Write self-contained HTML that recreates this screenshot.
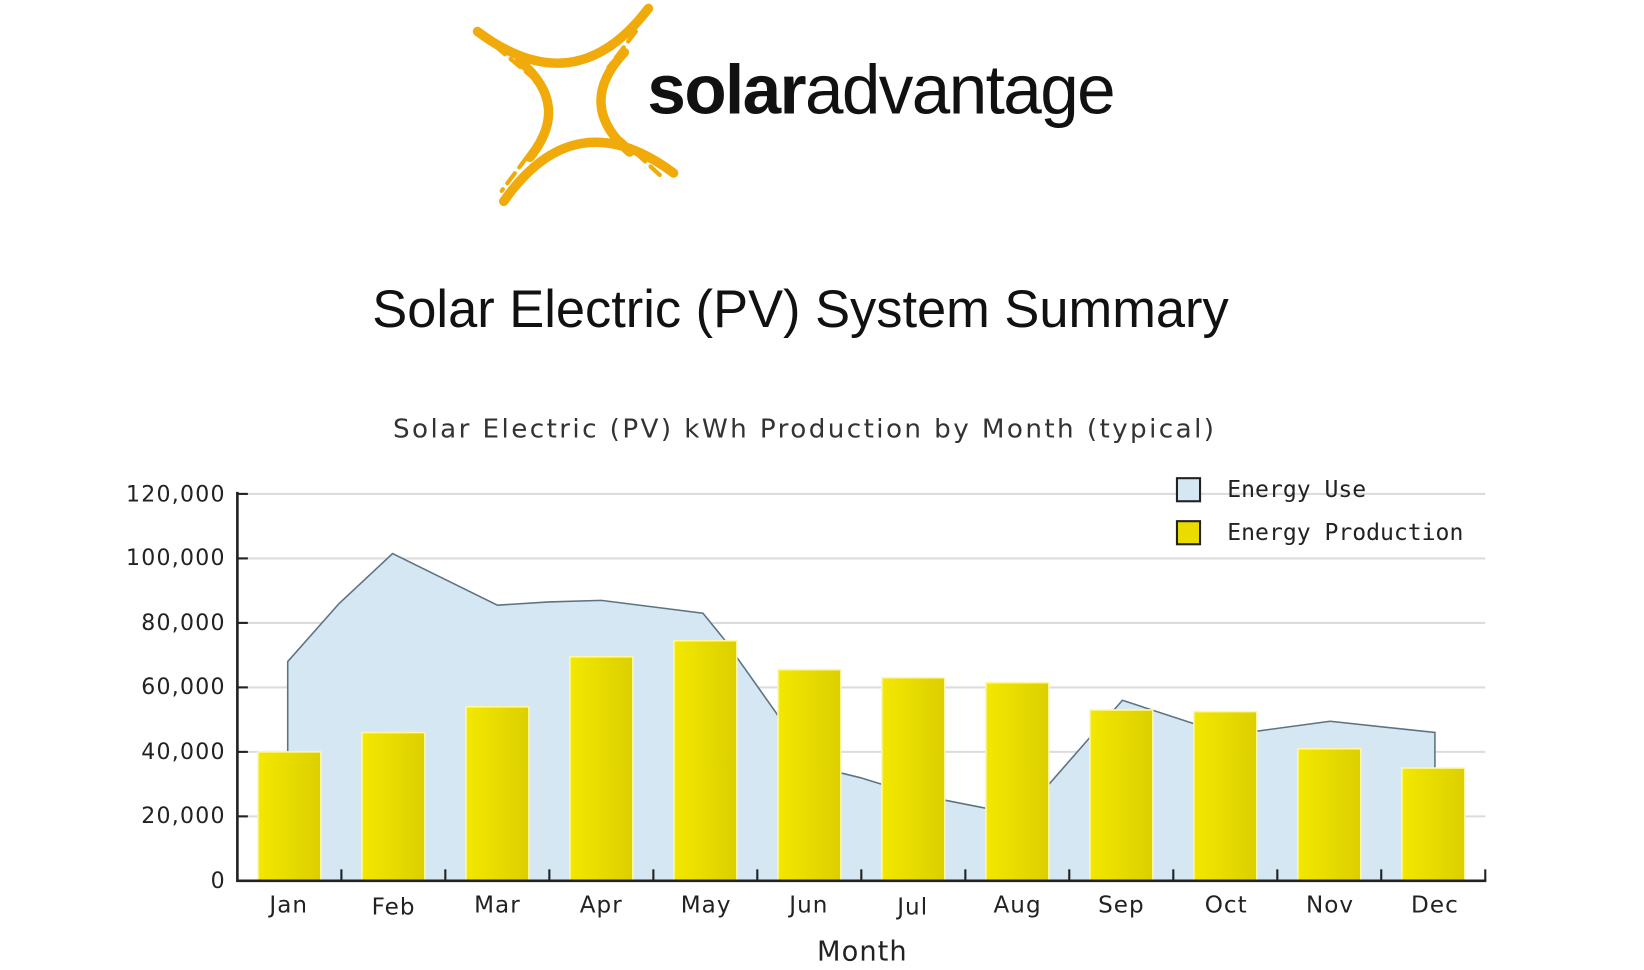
<!DOCTYPE html>
<html><head><meta charset="utf-8"><style>
html,body{margin:0;padding:0;background:#fff;}
svg{display:block;}
</style></head><body>
<svg width="1644" height="970" viewBox="0 0 1567 925" xmlns="http://www.w3.org/2000/svg">
<defs>
<linearGradient id="bar" x1="0" x2="1" y1="0" y2="0">
<stop offset="0" stop-color="#f2e800"/><stop offset="1" stop-color="#dccf00"/>
</linearGradient>
</defs>
<rect width="1567" height="925" fill="#fff"/>
<!-- Logo -->
<g stroke="#f0aa0a" fill="none" stroke-linecap="round">
<path d="M455 30 Q548 100 618 8" stroke-width="9"/>
<path d="M480 192 Q548 95 642 165" stroke-width="9"/>
<path d="M495 58 Q545 100 505 150" stroke-width="9"/>
<path d="M595 50 Q548 100 600 145" stroke-width="9"/>
<path d="M472 44 L510 76" stroke-width="4" stroke-dasharray="12 7"/>
<path d="M606 30 L580 64" stroke-width="4" stroke-dasharray="12 7"/>
<path d="M502 150 L478 182" stroke-width="4" stroke-dasharray="12 7"/>
<path d="M592 133 L630 168" stroke-width="4" stroke-dasharray="12 7"/>
</g>
<text x="617" y="108" font-family="Liberation Sans, sans-serif" font-size="66" fill="#111" letter-spacing="-1.5"><tspan font-weight="bold">solar</tspan>advantage</text>
<!-- Heading -->
<text x="763" y="312" text-anchor="middle" font-family="Liberation Sans, sans-serif" font-size="50" fill="#111">Solar Electric (PV) System Summary</text>
<text x="767" y="417" text-anchor="middle" font-family="DejaVu Sans, sans-serif" font-size="25" letter-spacing="2.3" fill="#333">Solar Electric (PV) kWh Production by Month (typical)</text>
<!-- Grid -->
<g stroke="#dcdcdc" stroke-width="2">
<line x1="226" x2="1416" y1="471" y2="471"/><line x1="226" x2="1416" y1="532.5" y2="532.5"/>
<line x1="226" x2="1416" y1="594" y2="594"/><line x1="226" x2="1416" y1="655.5" y2="655.5"/>
<line x1="226" x2="1416" y1="717" y2="717"/><line x1="226" x2="1416" y1="778.5" y2="778.5"/>
</g>
<!-- Area -->
<path d="M274 840 L274 630.9 L323 575.5 L374 527.9 L474 577.1 L523 574 L573 572.5 L670 584.8 L690 609.4 L740 680.1 L770 729.3 L820 741.6 L870 757 L940 770.8 L1000 747.8 L1070 667.8 L1150 694 L1200 697 L1268 687.8 L1368 698.5 L1368 840 Z" fill="#d4e7f2" stroke="#5e7382" stroke-width="1.5"/>
<!-- Bars -->
<g fill="url(#bar)" stroke="#fff8a0" stroke-width="1.5">
<rect x="245.6" y="717" width="60" height="123"/>
<rect x="344.8" y="698.6" width="60" height="141.4"/>
<rect x="444" y="674" width="60" height="166"/>
<rect x="543.1" y="626.3" width="60" height="213.7"/>
<rect x="642.3" y="611" width="60" height="229"/>
<rect x="741.5" y="638.6" width="60" height="201.4"/>
<rect x="840.6" y="646.3" width="60" height="193.7"/>
<rect x="939.8" y="651" width="60" height="189"/>
<rect x="1039" y="677" width="60" height="163"/>
<rect x="1138.1" y="678.6" width="60" height="161.4"/>
<rect x="1237.3" y="714" width="60" height="126"/>
<rect x="1336.5" y="732.4" width="60" height="107.6"/>
</g>
<!-- Axes -->
<g stroke="#222" stroke-width="2.5">
<line x1="226" y1="469" x2="226" y2="841"/>
<line x1="225" y1="840" x2="1417" y2="840"/>
</g>
<g stroke="#222" stroke-width="2">
<line x1="226" x2="236" y1="471" y2="471"/><line x1="226" x2="236" y1="532.5" y2="532.5"/>
<line x1="226" x2="236" y1="594" y2="594"/><line x1="226" x2="236" y1="655.5" y2="655.5"/>
<line x1="226" x2="236" y1="717" y2="717"/><line x1="226" x2="236" y1="778.5" y2="778.5"/>
<line x1="325.2" x2="325.2" y1="829" y2="840"/><line x1="424.3" x2="424.3" y1="829" y2="840"/>
<line x1="523.5" x2="523.5" y1="829" y2="840"/><line x1="622.7" x2="622.7" y1="829" y2="840"/>
<line x1="721.8" x2="721.8" y1="829" y2="840"/><line x1="821" x2="821" y1="829" y2="840"/>
<line x1="920.2" x2="920.2" y1="829" y2="840"/><line x1="1019.3" x2="1019.3" y1="829" y2="840"/>
<line x1="1118.5" x2="1118.5" y1="829" y2="840"/><line x1="1217.7" x2="1217.7" y1="829" y2="840"/>
<line x1="1316.8" x2="1316.8" y1="829" y2="840"/><line x1="1416" x2="1416" y1="829" y2="840"/>
</g>
<g font-family="DejaVu Sans, sans-serif" font-size="21" letter-spacing="1.2" fill="#222" text-anchor="end">
<text x="215" y="478">120,000</text><text x="215" y="539">100,000</text>
<text x="215" y="601">80,000</text><text x="215" y="662">60,000</text>
<text x="215" y="724">40,000</text><text x="215" y="785">20,000</text>
<text x="215" y="847">0</text>
</g>
<g font-family="DejaVu Sans, sans-serif" font-size="22" letter-spacing="1" fill="#222" text-anchor="middle">
<text x="275" y="870">Jan</text><text x="375" y="872">Feb</text><text x="474" y="870">Mar</text>
<text x="573" y="870">Apr</text><text x="673" y="870">May</text><text x="771" y="870">Jun</text>
<text x="870" y="872">Jul</text><text x="970" y="870">Aug</text><text x="1069" y="870">Sep</text>
<text x="1169" y="870">Oct</text><text x="1268" y="870">Nov</text><text x="1368" y="870">Dec</text>
<text x="822" y="916" font-size="26">Month</text>
</g>
<!-- Legend -->
<rect x="1122" y="456" width="22" height="22" fill="#d4e7f2" stroke="#222" stroke-width="2"/>
<rect x="1122" y="497" width="22" height="22" fill="#eadc00" stroke="#222" stroke-width="2"/>
<g font-family="DejaVu Sans Mono, monospace" font-size="22" fill="#222">
<text x="1170" y="474">Energy Use</text>
<text x="1170" y="515">Energy Production</text>
</g>
</svg>
</body></html>
